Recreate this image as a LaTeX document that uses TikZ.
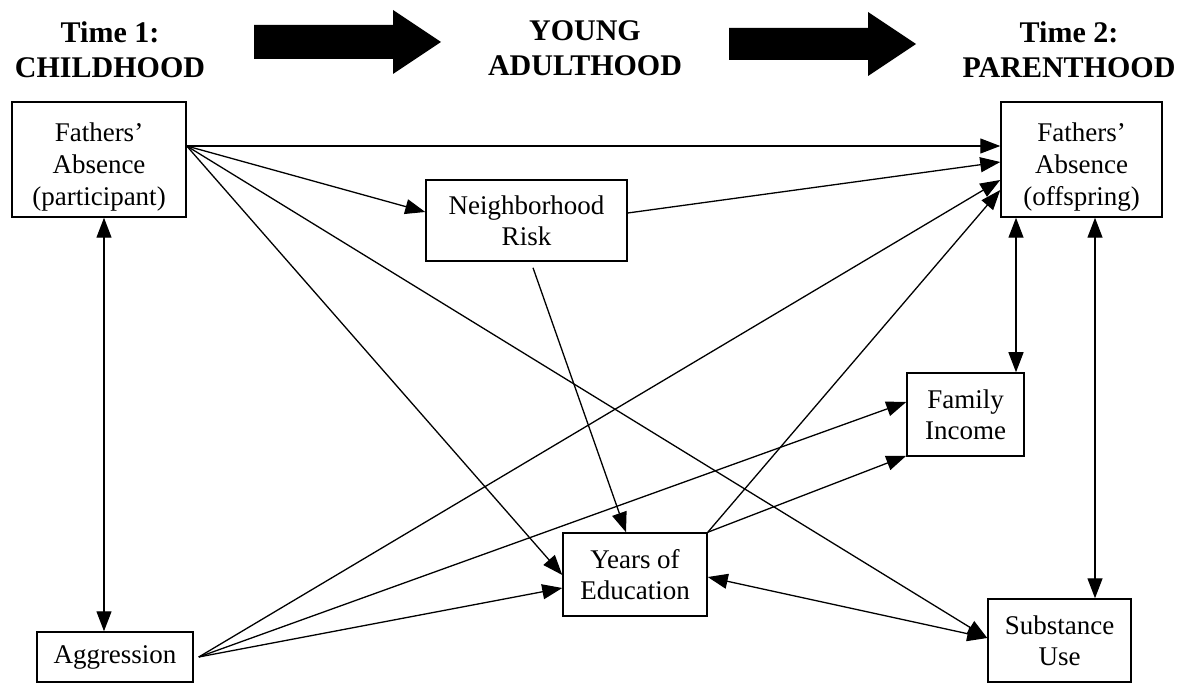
\documentclass[tikz,border=0pt]{standalone}
\usepackage{fontspec}
\setmainfont{Liberation Serif}
\usepackage{tikz}
\usetikzlibrary{arrows.meta}

\tikzset{
  var/.style={draw, line width=1.5pt, align=center, inner sep=0pt,
    font=\fontsize{27}{31}\selectfont},
  tall/.style={label={[align=center, font=\fontsize{27}{32}\selectfont, yshift=-8pt]center:#1}},
  stage/.style={align=center, font=\fontsize{30}{35}\selectfont\bfseries},
  link/.style={-{Triangle[length=20pt,width=15pt]}, line width=1.3pt},
  dlink/.style={{Triangle[length=20pt,width=15pt]}-{Triangle[length=20pt,width=15pt]}, line width=1.3pt}
}

\begin{document}
\begin{tikzpicture}[x=1pt,y=1pt]

\useasboundingbox (0,0) rectangle (1190,683);

\node[stage] (time1) at (110,633) {Time 1:\\CHILDHOOD};
\node[stage] (young) at (585,635) {YOUNG\\ADULTHOOD};
\node[stage] (time2) at (1069,633) {Time 2:\\PARENTHOOD};

\fill (254,658)--(393,658)--(393,673)--(441,641)--(393,609)--(393,624)--(254,624)--cycle;
\fill (729,655)--(868,655)--(868,671)--(916,639)--(868,607)--(868,623)--(729,623)--cycle;

\node[var, minimum width=174pt, minimum height=115pt, tall={Fathers'\\Absence\\(participant)}] (fap) at (99,523.5) {};
\node[var, minimum width=161pt, minimum height=115pt, tall={Fathers'\\Absence\\(offspring)}] (fao) at (1081.5,523.5) {};
\node[var, minimum width=201pt, minimum height=81pt] (nr) at (526.5,462.5) {Neighborhood\\Risk};
\node[var, minimum width=117pt, minimum height=83pt] (fi) at (965.5,268.5) {Family\\Income};
\node[var, minimum width=144pt, minimum height=83pt] (ye) at (635,108.5) {Years of\\Education};
\node[var, minimum width=143pt, minimum height=83pt] (su) at (1059.5,42.5) {Substance\\Use};
\node[var, minimum width=156pt, minimum height=50pt] (ag) at (115,26) {Aggression};

\draw[link] ([yshift=13.5pt]fap.east) -- ([yshift=13.5pt]fao.west);
\draw[link] ([yshift=13.5pt]fap.east) -- ([yshift=8.5pt]nr.west);
\draw[link] ([yshift=13.5pt]fap.east) -- ([yshift=-0.5pt]ye.west);
\draw[link] ([yshift=13.5pt]fap.east) -- ([yshift=2.5pt]su.west);
\draw[dlink] ([xshift=5pt]fap.south) -- ([xshift=-11pt]ag.north);

\draw[link] ([yshift=7.5pt]nr.east) -- ([yshift=-2.5pt]fao.west);
\draw[link] ([xshift=6.5pt,yshift=-6pt]nr.south) -- ([xshift=-9pt]ye.north);

\draw[link] ([xshift=5pt]ag.east) -- ([yshift=-13.5pt]ye.west);
\draw[link] ([xshift=5pt]ag.east) -- ([yshift=12.5pt]fi.west);
\draw[link] ([xshift=5pt]ag.east) -- ([yshift=-20.5pt]fao.west);

\draw[link] (ye.north east) -- ([yshift=-30.5pt]fao.west);
\draw[link] (ye.north east) -- ([yshift=1pt]fi.south west);
\draw[dlink] ([yshift=-2.5pt]ye.east) -- ([yshift=2.5pt]su.west);

\draw[dlink] ([xshift=-65.5pt]fao.south) -- ([xshift=50.5pt]fi.north);
\draw[dlink] ([xshift=13.5pt]fao.south) -- ([xshift=35.5pt]su.north);

\end{tikzpicture}
\end{document}
